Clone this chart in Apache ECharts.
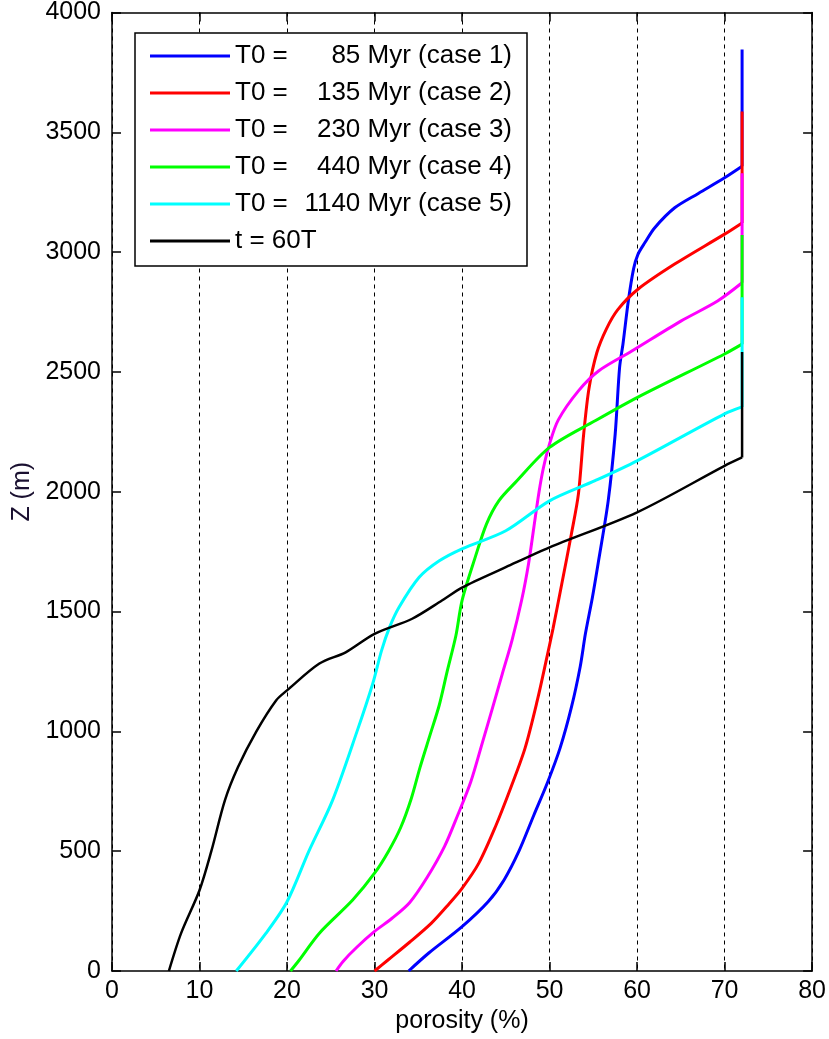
<!DOCTYPE html>
<html>
<head>
<meta charset="utf-8">
<script src="https://cdn.jsdelivr.net/npm/echarts@6/dist/echarts.min.js"></script>
<style>
  html, body { margin: 0; padding: 0; background: #fff; }
  #chart { width: 829px; height: 1039px; }
</style>
</head>
<body>
<div id="chart"></div>
<script>
// ---- data (porosity %, depth Z m) ----
const xTicks = [0, 10, 20, 30, 40, 50, 60, 70, 80];
const yTicks = [0, 500, 1000, 1500, 2000, 2500, 3000, 3500, 4000];

const seriesNames = ['case 1', 'case 2', 'case 3', 'case 4', 'case 5', 't = 60T'];
const legendPrefix = ['T0 =', 'T0 =', 'T0 =', 'T0 =', 'T0 =', ''];
const legendSuffix = ['85 Myr (case 1)', '135 Myr (case 2)', '230 Myr (case 3)', '440 Myr (case 4)', '1140 Myr (case 5)', 't = 60T'];
const seriesColors = ['#0000ff', '#ff0000', '#ff00ff', '#00ff00', '#00ffff', '#000000'];

// curve parts (ending where porosity reaches its surface value)
const case1 = [[33.9,0],[36.2,75],[40,185],[43,290],[44.8,380],[46.5,500],[48.2,650],[49.8,790],[51.2,930],[52.5,1101],[53.5,1270],[54.1,1408],[54.9,1560],[55.6,1712],[56.7,1962],[57.5,2241],[58,2518],[58.4,2620],[59,2796],[59.6,2930],[60.1,2991],[60.9,3040],[62,3101],[64.3,3185],[67,3245],[70,3310],[72,3358]];
const case2 = [[30,0],[31.5,45],[34,120],[36.5,200],[38.5,280],[40,345],[41.9,449],[43.8,601],[45.6,768],[47.2,930],[48.6,1129],[49.7,1310],[50.4,1430],[51.4,1616],[52.5,1825],[53.3,1991],[53.9,2241],[54.5,2430],[55.4,2580],[56.5,2680],[57.8,2760],[60.1,2845],[64.3,2950],[70,3075],[72,3122]];
const case3 = [[25.6,0],[26.4,40],[28,100],[30,165],[32,220],[34,285],[36,390],[38,520],[39.5,650],[41,790],[42.3,950],[43.5,1100],[44.6,1240],[45.7,1379],[46.8,1546],[47.6,1700],[48.2,1850],[48.8,2000],[49.3,2100],[50,2200],[51,2300],[53.3,2421],[55.6,2504],[59.4,2587],[65,2712],[69.2,2796],[72,2872]];
const case4 = [[20.4,0],[21.4,46],[23.7,158],[27.5,296],[30,408],[31.6,500],[33,600],[34.2,720],[35.2,850],[36.3,980],[37.4,1110],[38.3,1250],[39.3,1400],[40,1546],[41.5,1726],[42.8,1866],[44.2,1962],[46.1,2039],[50,2185],[55.2,2296],[60,2393],[70,2575],[72,2616]];
const case5 = [[14.2,0],[17.6,158],[20,289],[22.5,500],[25.2,712],[28,1000],[29.8,1200],[30.8,1337],[31.7,1433],[32.8,1518],[35.1,1643],[37.4,1712],[40,1762],[45,1837],[50,1962],[55.2,2046],[60,2129],[70,2325],[72,2354]];
const case60T = [[6.5,0],[7.9,158],[10,337],[11.35,500],[12.9,712],[14.4,851],[16.5,1000],[18.75,1129],[20,1171],[23.7,1283],[26.7,1330],[30,1407],[34.3,1470],[37.7,1546],[40,1600],[45,1685],[50,1768],[60,1914],[70,2108],[72,2143]];
// top of the vertical (constant porosity) part of each profile
const topZ = [3846, 3587, 3329, 3071, 2812, 2583];

const seriesData = [case1, case2, case3, case4, case5, case60T];
const lineWidths = [3, 3, 3, 3, 3, 2.5];

// ---- chart ----
const FONT = 'Liberation Sans, Arial, sans-serif';
const chart = echarts.init(document.getElementById('chart'), null, { renderer: 'canvas' });

const axisLineStyle = { color: '#000', width: 1.5 };

const series = [];
seriesNames.forEach(function (n, i) {
  const curve = seriesData[i];
  const last = curve[curve.length - 1];
  series.push({
    name: n, type: 'line', data: curve,
    symbol: 'none', showSymbol: false, smooth: 0.3,
    color: seriesColors[i],
    lineStyle: { color: seriesColors[i], width: lineWidths[i] },
    z: 2 + i
  });
  series.push({
    name: n, type: 'line', data: [last, [last[0], topZ[i]]],
    symbol: 'none', showSymbol: false,
    color: seriesColors[i],
    lineStyle: { color: seriesColors[i], width: lineWidths[i] },
    z: 2 + i
  });
});

const option = {
  animation: false,
  backgroundColor: '#fff',
  grid: { left: 112, right: 15, top: 11, bottom: 68, containLabel: false },
  legend: {
    orient: 'vertical',
    left: 135,
    top: 33,
    padding: [10, 15, 12, 15],
    backgroundColor: '#fff',
    borderColor: '#000',
    borderWidth: 1.5,
    itemWidth: 80,
    itemHeight: 3,
    itemGap: 11,
    icon: 'rect',
    selectedMode: false,
    data: seriesNames,
    formatter: function (name) {
      const i = seriesNames.indexOf(name);
      if (legendPrefix[i] === '') return '{c|' + legendSuffix[i] + '}';
      return '{a|' + legendPrefix[i] + '}{b|' + legendSuffix[i] + '}';
    },
    textStyle: {
      fontFamily: FONT, fontSize: 26, color: '#000', lineHeight: 26,
      rich: {
        a: { fontFamily: FONT, fontSize: 26, color: '#000', width: 58, lineHeight: 26 },
        b: { fontFamily: FONT, fontSize: 26, color: '#000', width: 219, align: 'right', lineHeight: 26 },
        c: { fontFamily: FONT, fontSize: 26, color: '#000', width: 277, lineHeight: 26 }
      }
    }
  },
  xAxis: [
    {
      type: 'value', min: xTicks[0], max: xTicks[xTicks.length - 1], interval: 10,
      position: 'bottom',
      name: 'porosity (%)', nameLocation: 'middle', nameGap: 37,
      nameTextStyle: { fontFamily: FONT, fontSize: 25, color: '#000' },
      axisLine: { show: true, onZero: false, lineStyle: axisLineStyle },
      axisTick: { show: true, inside: true, length: 9, lineStyle: axisLineStyle },
      axisLabel: { fontFamily: FONT, fontSize: 25, color: '#000', margin: 8 },
      splitLine: { show: true, lineStyle: { color: '#000', width: 1, type: [4, 4] } }
    },
    {
      type: 'value', min: xTicks[0], max: xTicks[xTicks.length - 1], interval: 10,
      position: 'top',
      axisLine: { show: true, onZero: false, lineStyle: axisLineStyle },
      axisTick: { show: true, inside: true, length: 9, lineStyle: axisLineStyle },
      axisLabel: { show: false },
      splitLine: { show: false }
    }
  ],
  yAxis: [
    {
      type: 'value', min: yTicks[0], max: yTicks[yTicks.length - 1], interval: 500,
      position: 'left',
      name: 'Z (m)', nameLocation: 'middle', nameGap: 76, nameRotate: 90,
      nameTextStyle: { fontFamily: FONT, fontSize: 25, color: '#1a1030' },
      axisLine: { show: true, onZero: false, lineStyle: axisLineStyle },
      axisTick: { show: true, inside: true, length: 9, lineStyle: axisLineStyle },
      axisLabel: { fontFamily: FONT, fontSize: 25, color: '#000', margin: 11,
                   formatter: function (v) { return String(v); } },
      splitLine: { show: false }
    },
    {
      type: 'value', min: yTicks[0], max: yTicks[yTicks.length - 1], interval: 500,
      position: 'right',
      axisLine: { show: true, onZero: false, lineStyle: axisLineStyle },
      axisTick: { show: true, inside: true, length: 9, lineStyle: axisLineStyle },
      axisLabel: { show: false },
      splitLine: { show: false }
    }
  ],
  series: series
};

chart.setOption(option);
</script>
</body>
</html>
